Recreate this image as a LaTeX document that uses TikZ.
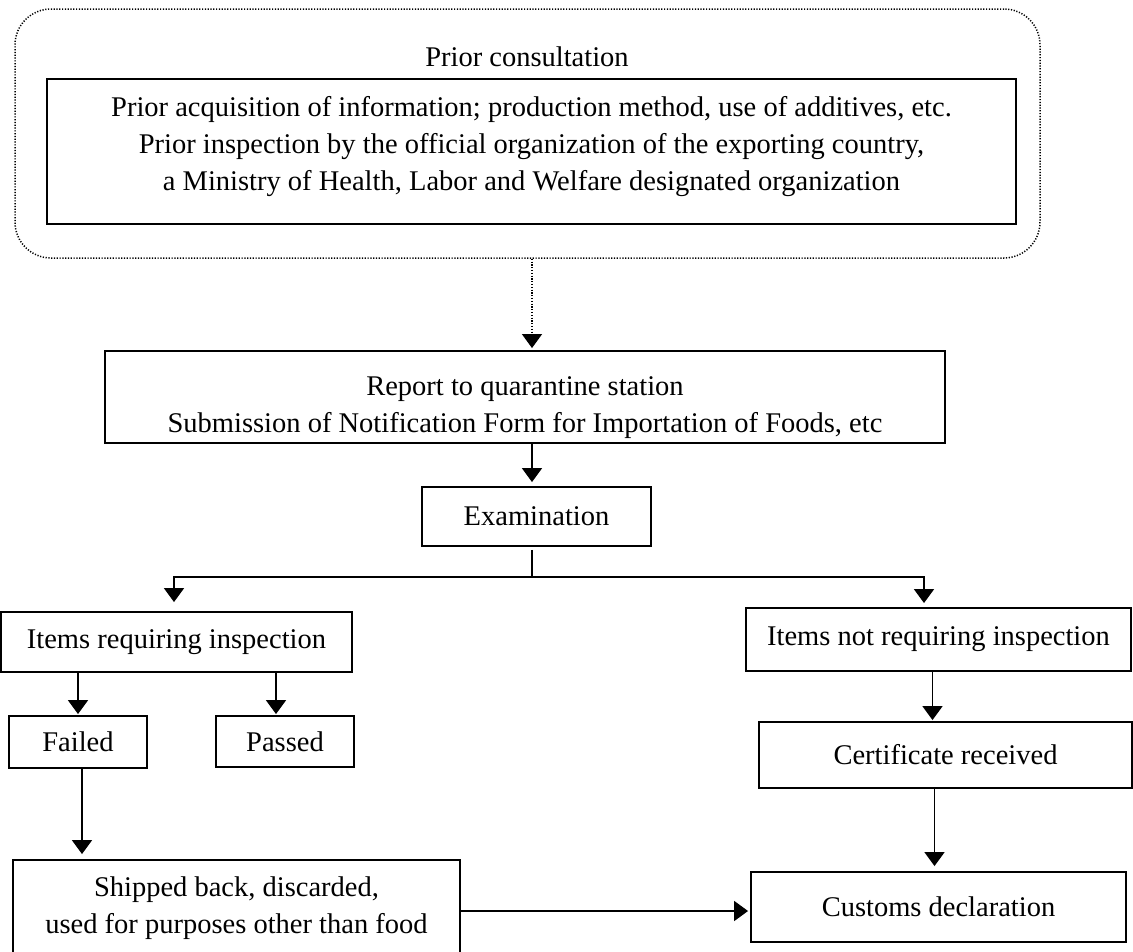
\documentclass[tikz,border=0pt]{standalone}
\usepackage{fontspec}
\setmainfont{Liberation Serif}
\usetikzlibrary{arrows.meta,calc}

\tikzset{
  box/.style={draw, line width=1.9pt, inner sep=0pt, align=center,
    font=\fontsize{28.5}{37}\selectfont},
  flow/.style={line width=1.8pt, -{Triangle[width=20pt,length=14pt]}},
  plain/.style={line width=1.8pt},
  dotted line/.style={line width=1.5pt, dash pattern=on 1.2pt off 1.6pt},
}

\begin{document}
\begin{tikzpicture}[x=1pt,y=-1pt]
\useasboundingbox (0,0) rectangle (1133,951);

% Vorabkonsultation
\node[draw, dotted line, rounded corners=36pt,
  minimum width=1025, minimum height=249] (consult) at (527.5,133.5) {};
\node[font=\fontsize{28.5}{37}\selectfont, anchor=base] (consulttitle) at (527,66) {Prior consultation};
\node[box, minimum width=969, minimum height=145] (info) at (531.5,151.5)
  {Prior acquisition of information; production method, use of additives, etc.\\
   Prior inspection by the official organization of the exporting country,\\
   a Ministry of Health, Labor and Welfare designated organization\rule[-17pt]{0pt}{1pt}};

% Kaesten
\foreach \name/\x/\y/\w/\h/\txt in {
    report/525/397/840/92/{\rule{0pt}{41pt}Report to quarantine station\\Submission of Notification Form for Importation of Foods, etc},
    exam/536.5/516.5/229/59/{Examination},
    itemsreq/176.5/642/351/60/{Items requiring inspection},
    itemsnot/938.5/639.5/385/63/{Items not requiring inspection},
    failed/78/742/138/52/{Failed},
    passed/285/741.5/138/51/{Passed},
    cert/945.5/755/373/66/{Certificate received},
    shipped/236.5/908/447/96/{Shipped back, discarded,\\used for purposes other than food},
    customs/938.5/907/375/70/{Customs declaration}%
  }{
  \node[box, minimum width=\w, minimum height=\h] (\name) at (\x,\y) {\txt};
}

\coordinate (split) at (532,577);

% Pfeile
\draw[flow, dotted line] (consult.south -| split) -- ($(report.north -| split)+(0,-2)$);
\draw[flow] (report.south -| split) -- ($(exam.north -| split)+(0,-4)$);
\draw[plain] ($(exam.south -| split)+(0,3)$) -- (split);
\draw[flow] (split) -| ($(itemsreq.north)+(-2.5,-9)$);
\draw[flow] (split) -| ($(itemsnot.north)+(-14.5,-4)$);
\draw[flow] (itemsreq.south -| failed.north) -- ($(failed.north)+(0,-1)$);
\draw[flow] ($(itemsreq.south -| passed.north)+(-9,0)$) -- ($(passed.north)+(-9,-1)$);
\draw[flow] ($(failed.south)+(4,0)$) -- ($(shipped.north -| failed.south)+(4,-5)$);
\draw[flow] ($(itemsnot.south)+(-6,0)$) -- ($(cert.north -| itemsnot.south)+(-6,-1)$);
\draw[flow] ($(cert.south)+(-11,0)$) -- ($(customs.north -| cert.south)+(-11,-5)$);
\draw[flow] ($(shipped.east)+(0,3)$) -- ($(customs.west)+(-2,4)$);

\end{tikzpicture}
\end{document}
